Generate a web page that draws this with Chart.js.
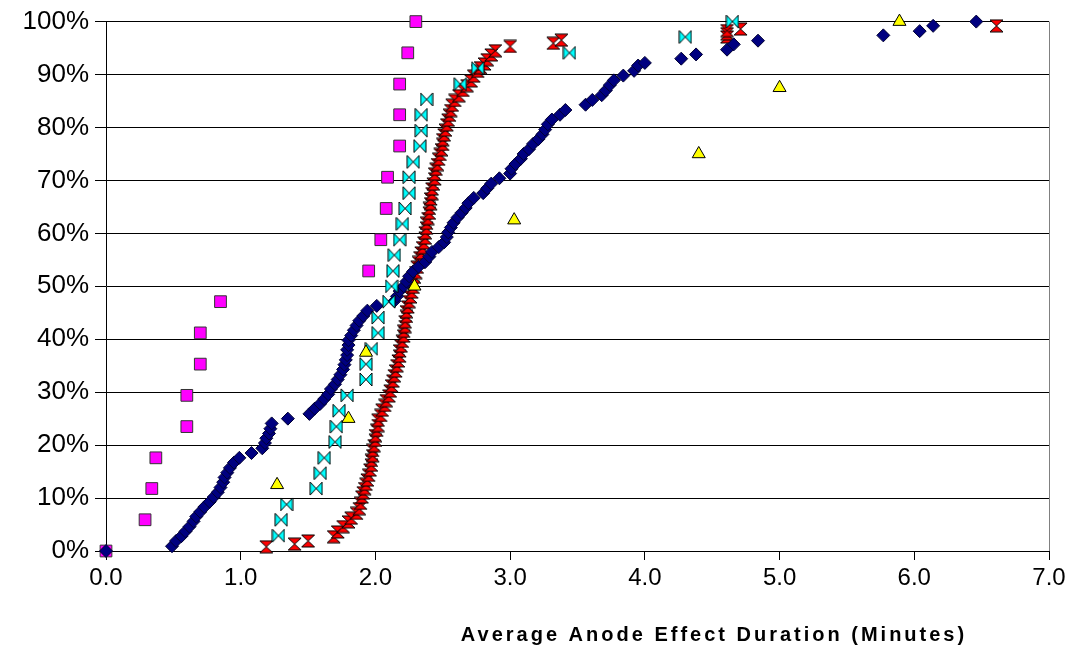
<!DOCTYPE html>
<html>
<head>
<meta charset="utf-8">
<script src="https://cdn.jsdelivr.net/npm/chart.js@4/dist/chart.umd.min.js"></script>
<style>
html,body{margin:0;padding:0;background:#fff;}
#wrap{width:1079px;height:653px;position:relative;}
</style>
</head>
<body>
<div id="wrap"><canvas id="c" width="1079" height="653"></canvas></div>
<script>
// ---- data (x = minutes, y = cumulative percent) ----
const navyX = [0,0.49,0.52,0.56,0.59,0.62,0.65,0.67,0.70,0.73,0.77,0.80,0.83,0.85,0.87,0.88,0.90,0.92,0.95,0.99,1.08,1.16,1.18,1.19,1.21,1.22,1.23,1.35,1.51,1.55,1.59,1.62,1.65,1.67,1.70,1.72,1.74,1.76,1.77,1.78,1.79,1.79,1.80,1.80,1.82,1.84,1.86,1.88,1.91,1.94,2.01,2.14,2.16,2.18,2.21,2.23,2.25,2.28,2.32,2.37,2.40,2.42,2.47,2.51,2.53,2.54,2.56,2.58,2.61,2.64,2.67,2.69,2.73,2.80,2.83,2.86,2.92,3.00,3.01,3.04,3.08,3.10,3.14,3.17,3.21,3.24,3.26,3.28,3.31,3.37,3.41,3.56,3.61,3.68,3.71,3.74,3.77,3.84,3.92,3.95,4.00,4.27,4.38,4.61,4.66,4.84,5.77,6.04,6.14,6.46];
const navyY = [0,0.9,1.9,2.8,3.7,4.6,5.6,6.5,7.4,8.3,9.3,10.2,11.1,12.0,13.0,13.9,14.8,15.7,16.7,17.6,18.5,19.4,20.4,21.3,22.2,23.1,24.1,25.0,25.9,26.9,27.8,28.7,29.6,30.6,31.5,32.4,33.3,34.3,35.2,36.1,37.0,38.0,38.9,39.8,40.7,41.7,42.6,43.5,44.4,45.4,46.3,47.2,48.1,49.1,50.0,50.9,51.9,52.8,53.7,54.6,55.6,56.5,57.4,58.3,59.3,60.2,61.1,62.0,63.0,63.9,64.8,65.7,66.7,67.6,68.5,69.4,70.4,71.3,72.2,73.1,74.1,75.0,75.9,76.9,77.8,78.7,79.6,80.6,81.5,82.4,83.3,84.3,85.2,86.1,87.0,88.0,88.9,89.8,90.7,91.7,92.2,93.0,93.8,94.7,95.7,96.4,97.4,98.2,99.2,100];

const magentaX = [0,0.29,0.34,0.37,0.60,0.60,0.70,0.70,0.85,1.95,2.04,2.08,2.09,2.18,2.18,2.18,2.24,2.30];
const magentaY = [0,5.9,11.8,17.6,23.5,29.4,35.3,41.2,47.1,52.9,58.8,64.7,70.6,76.5,82.4,88.2,94.1,100];

const yellowX = [1.27,1.80,1.93,2.29,3.03,4.40,5.00,5.89];
const yellowY = [12.5,25.0,37.5,50.0,62.5,75.0,87.5,100];

const cyanX = [1.28,1.30,1.34,1.56,1.59,1.62,1.70,1.71,1.73,1.79,1.93,1.93,1.97,2.02,2.02,2.10,2.12,2.13,2.14,2.18,2.20,2.22,2.25,2.25,2.28,2.33,2.34,2.34,2.38,2.63,2.76,3.44,4.30,4.65];
const cyanY = [2.9,5.9,8.8,11.8,14.7,17.6,20.6,23.5,26.5,29.4,32.4,35.3,38.2,41.2,44.1,47.1,50.0,52.9,55.9,58.8,61.8,64.7,67.6,70.6,73.5,76.5,79.4,82.4,85.3,88.2,91.2,94.1,97.1,100];

const redX = [1.19,1.40,1.50,1.69,1.72,1.76,1.80,1.82,1.86,1.88,1.89,1.90,1.91,1.92,1.93,1.94,1.95,1.96,1.97,1.97,1.98,1.98,1.99,2.00,2.00,2.01,2.02,2.02,2.04,2.05,2.07,2.08,2.10,2.11,2.12,2.13,2.14,2.15,2.16,2.17,2.18,2.18,2.19,2.20,2.21,2.21,2.22,2.22,2.23,2.23,2.24,2.25,2.26,2.27,2.28,2.28,2.29,2.30,2.31,2.32,2.33,2.34,2.35,2.36,2.37,2.37,2.38,2.38,2.39,2.40,2.40,2.41,2.41,2.42,2.42,2.43,2.44,2.44,2.45,2.46,2.47,2.48,2.49,2.50,2.50,2.51,2.52,2.53,2.54,2.55,2.56,2.57,2.59,2.62,2.65,2.68,2.71,2.73,2.76,2.78,2.81,2.83,2.86,2.89,3.00,3.32,3.38,4.61,4.61,4.61,4.71,6.61];
const redY = [0.8,1.3,1.9,2.7,3.6,4.6,5.5,6.2,7.1,8.0,9.0,10.2,11.0,11.8,12.6,13.4,14.3,15.3,16.2,17.1,18.0,19.0,19.9,20.9,21.8,22.8,23.7,24.7,25.6,26.6,27.5,28.4,29.3,30.2,31.2,32.1,33.1,34.0,35.0,35.9,36.8,37.8,38.7,39.6,40.6,41.5,42.4,43.3,44.3,45.2,46.1,47.1,48.0,48.9,49.8,50.8,51.7,52.6,53.6,54.5,55.4,56.3,57.3,58.2,59.1,60.1,61.0,61.9,62.8,63.8,64.7,65.6,66.5,67.5,68.4,69.3,70.3,71.2,72.1,73.0,74.0,74.9,75.8,76.8,77.7,78.6,79.5,80.5,81.4,82.3,83.2,84.2,85.1,86.0,87.0,87.9,88.8,89.7,90.6,91.3,92.0,92.8,93.7,94.5,95.3,95.9,96.5,97.1,97.7,98.3,98.6,99.2];

const xTicks = [0,1,2,3,4,5,6,7];
const yTicks = [0,10,20,30,40,50,60,70,80,90,100];
const xAxisTitle = 'Average Anode Effect Duration (Minutes)';

function pts(xs, ys){ return xs.map((x,i)=>({x:x, y:ys[i]})); }

function makeMarker(kind, fill, w, h){
  const c = document.createElement('canvas');
  c.width = w + 2; c.height = h + 2;
  const g = c.getContext('2d');
  g.fillStyle = fill; g.strokeStyle = '#000'; g.lineWidth = 1;
  const cx = (w + 2)/2, cy = (h + 2)/2;
  g.beginPath();
  if (kind === 'bowtie') {
    g.moveTo(1,1); g.lineTo(cx,cy); g.lineTo(1,h+1); g.closePath();
    g.moveTo(w+1,1); g.lineTo(cx,cy); g.lineTo(w+1,h+1); g.closePath();
  } else {
    g.moveTo(1,1); g.lineTo(w+1,1); g.lineTo(cx,cy); g.closePath();
    g.moveTo(1,h+1); g.lineTo(w+1,h+1); g.lineTo(cx,cy); g.closePath();
  }
  g.fill(); g.stroke();
  return c;
}
const bowtie = makeMarker('bowtie', '#00FFFF', 12, 13);
const hourglass = makeMarker('hourglass', '#FF0000', 13, 12);

const frame = {
  id: 'frame',
  afterDraw(chart){
    const a = chart.chartArea, ctx = chart.ctx;
    ctx.save();
    ctx.strokeStyle = '#808080'; ctx.lineWidth = 1;
    ctx.beginPath();
    ctx.moveTo(Math.round(a.right)+0.5, a.top);
    ctx.lineTo(Math.round(a.right)+0.5, a.bottom);
    ctx.stroke();
    ctx.fillStyle = '#000';
    ctx.font = 'bold 20px "Liberation Sans", Arial, sans-serif';
    try { ctx.letterSpacing = '3px'; } catch(e){}
    ctx.textAlign = 'center'; ctx.textBaseline = 'middle';
    ctx.fillText(xAxisTitle, 714, 635);
    ctx.restore();
  }
};

new Chart(document.getElementById('c'), {
  type: 'scatter',
  data: {
    datasets: [
      {label:'yellow', data: pts(yellowX, yellowY), pointStyle:'triangle', pointRadius:7.5, pointHoverRadius:7.5,
       backgroundColor:'#FFFF00', borderColor:'#000', borderWidth:1, order:0, clip:false},
      {label:'cyan', data: pts(cyanX, cyanY), pointStyle: bowtie, order:1, clip:false},
      {label:'navy', data: pts(navyX, navyY), pointStyle:'rectRot', pointRadius:6.5, pointHoverRadius:6.5,
       backgroundColor:'#000080', borderColor:'#000033', borderWidth:1, order:2, clip:false},
      {label:'magenta', data: pts(magentaX, magentaY), pointStyle:'rect', pointRadius:8.3, pointHoverRadius:8.3,
       backgroundColor:'#FF00FF', borderColor:'#333', borderWidth:1, order:3, clip:false},
      {label:'red', data: pts(redX, redY), pointStyle: hourglass, order:4, clip:false}
    ]
  },
  options: {
    responsive: false,
    animation: false,
    events: [],
    layout: { padding: { left: 0, right: 30, top: 20, bottom: 0 } },
    plugins: { legend: { display: false }, tooltip: { enabled: false } },
    scales: {
      x: {
        type: 'linear', min: 0, max: 7,
        afterBuildTicks(s){ s.ticks = xTicks.map(v=>({value:v})); },
        afterFit(s){ s.height = 102; },
        border: { color: '#000', width: 1 },
        grid: { drawOnChartArea: false, drawTicks: true, tickLength: 9, color: '#000' },
        ticks: { color: '#000', padding: 4, font: { family: '"Liberation Sans", Arial, sans-serif', size: 24 },
                 callback: v => Number(v).toFixed(1), maxRotation: 0 }
      },
      y: {
        type: 'linear', min: 0, max: 100,
        afterBuildTicks(s){ s.ticks = yTicks.map(v=>({value:v})); },
        afterFit(s){ s.width = 106; },
        border: { color: '#000', width: 1 },
        grid: { color: '#000', lineWidth: 1, tickLength: 11, drawTicks: true },
        ticks: { color: '#000', padding: 6, font: { family: '"Liberation Sans", Arial, sans-serif', size: 26 },
                 callback: v => v + '%' }
      }
    }
  },
  plugins: [frame]
});
</script>
</body>
</html>
